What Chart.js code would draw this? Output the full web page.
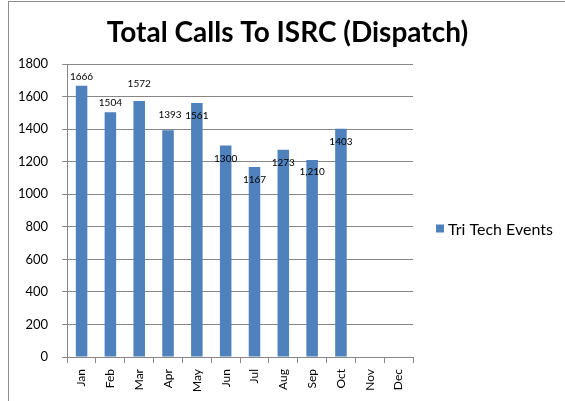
<!DOCTYPE html>
<html>
<head>
<meta charset="utf-8">
<script src="https://cdn.jsdelivr.net/npm/chart.js@4"></script>
<style>
html,body{margin:0;padding:0;background:#fff;}
#frame{position:absolute;left:8px;top:1px;width:600px;height:420px;border-left:1px solid #8c8c8c;border-top:1px solid #8c8c8c;}
#wrap{position:absolute;left:0;top:0;width:565px;height:401px;}
</style>
</head>
<body>
<div id="frame"></div>
<div id="wrap"><canvas id="callsChart"></canvas></div>
<script>
// Total calls to ISRC

const chartTitle = "Total Calls To ISRC (Dispatch)";
const months = ["Jan","Feb","Mar","Apr","May","Jun","Jul","Aug","Sep","Oct","Nov","Dec"];
const triTechEvents = [1666,1504,1572,1393,1561,1300,1167,1273,1210,1403,null,null];
const valueLabels = ["1666","1504","1572","1393","1561","1300","1167","1273","1,210","1403","",""];
const yTicks = [0,200,400,600,800,1000,1200,1400,1600,1800];

// where Excel dropped each label, relative to the bar top (px)
const labelNudge = [
[0,-9],[0,-9],[0,-17],[2,-15],[0,13],
[0,13],[0,13],[0,13],[0,12],[0,13]
];

const barLabels = {
id:"barLabels",
afterDatasetsDraw(chart){
const ctx = chart.ctx;
const meta = chart.getDatasetMeta(0);
ctx.save();
ctx.font = "10px Lato";
ctx.fillStyle = "#000";
ctx.textAlign = "center";
ctx.textBaseline = "middle";
meta.data.forEach((bar,i)=>{
if(!valueLabels[i]) return;
const n = labelNudge[i] || [0,-9];
ctx.fillText(valueLabels[i], bar.x + n[0], bar.y + n[1]);
});
ctx.restore();
}
};

// title + legend drawn by hand so they sit where Excel put them
const excelBits = {
id:"excelBits",
afterDraw(chart){
const ctx = chart.ctx;
const ds = chart.data.datasets[0];
const y = (chart.chartArea.top + chart.chartArea.bottom)/2 + 18;
ctx.save();
ctx.fillStyle = "#000";
ctx.font = "bold 28px Lato";
ctx.textAlign = "center";
ctx.textBaseline = "middle";
ctx.fillText(chartTitle, chart.width/2 + 5, 33);

ctx.fillStyle = ds.backgroundColor;
ctx.fillRect(436, y - 4, 8, 8);
ctx.fillStyle = "#000";
ctx.font = "16px Lato";
ctx.textAlign = "left";
ctx.fillText(ds.label, 448, y + 1);
ctx.restore();
}
};

new Chart(
document.getElementById("callsChart"),
{
type:"bar",

data:{
labels:months,

datasets:[{
label:"Tri Tech Events",

data:triTechEvents,

backgroundColor:"#4f81bd",

borderWidth:0,

barPercentage:0.4,

categoryPercentage:1
}]
},

options:{
responsive:true,
maintainAspectRatio:false,
animation:false,
layout:{padding:{left:4,right:152,top:64,bottom:3}},

plugins:{
title:{display:false},
legend:{display:false},
tooltip:{enabled:false}
},

scales:{
x:{
grid:{display:true,drawOnChartArea:false,color:"#868686",tickLength:6,offset:true},
border:{color:"#868686"},
ticks:{color:"#000",font:{family:"Lato",size:12},minRotation:90,maxRotation:90,padding:6}
},
y:{
min:0,
max:1800,
afterBuildTicks(axis){axis.ticks = yTicks.map(v=>({value:v}));},
grid:{color:"#868686",tickLength:5},
border:{color:"#868686"},
ticks:{color:"#000",font:{family:"Lato",size:13},padding:14,callback:v=>String(v)}
}
}
},

plugins:[barLabels,excelBits]
}
);
</script>
</body>
</html>
